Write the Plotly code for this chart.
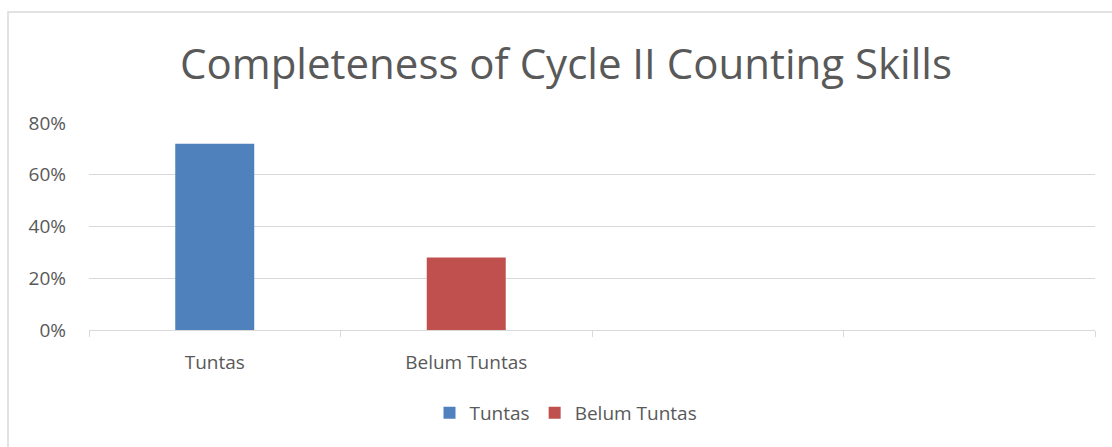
import plotly.graph_objects as go

categories = ["Tuntas", "Belum Tuntas"]
series_names = ["Tuntas", "Belum Tuntas"]
values = [0.72, 0.28]
colors = ["#4F81BD", "#C0504D"]
y_ticks = [0, 0.2, 0.4, 0.6, 0.8]
y_tick_labels = ["0%", "20%", "40%", "60%", "80%"]
title_text = "Completeness of Cycle II Counting Skills"

FONT = "Open Sans"
GREY = "#595959"
LINE = "#D9D9D9"

W, H = 1112, 447
L, R, T, B = 89, 17, 123, 117
pw, ph = W - L - R, H - T - B

fig = go.Figure()
for i, (name, val, col) in enumerate(zip(series_names, values, colors)):
    fig.add_trace(go.Bar(
        x=[i], y=[val], name=name, marker=dict(color=col, line=dict(width=0)),
        width=0.314, hoverinfo="skip",
    ))

fig.update_layout(
    width=W, height=H,
    margin=dict(l=L, r=R, t=T, b=B, pad=0),
    paper_bgcolor="white", plot_bgcolor="white",
    barmode="overlay",
    font=dict(family=FONT, color=GREY, size=19),
    title=dict(text=title_text, x=566 / W, xanchor="center", y=1 - 64 / H, yanchor="middle",
               xref="container", yref="container",
               font=dict(family=FONT, size=42, color=GREY)),
    showlegend=True,
    legend=dict(orientation="h", x=(566 - L) / pw, xanchor="center", y=(330 - 413) / ph,
                yanchor="middle", font=dict(size=19, color=GREY), itemwidth=30,
                traceorder="normal"),
    xaxis=dict(
        range=[-0.5, 3.5], tickmode="array", tickvals=[0, 1], ticktext=categories,
        ticks="", showgrid=False, zeroline=False,
        showline=True, linecolor=LINE, linewidth=1,
        tickfont=dict(size=19, color=GREY), ticklabelstandoff=15,
        minor=dict(tickmode="linear", tick0=-0.5, dtick=1, ticks="outside", ticklen=6,
                   tickcolor=LINE, tickwidth=1, showgrid=False),
        fixedrange=True,
    ),
    yaxis=dict(
        range=[0, 0.8], tickmode="array", tickvals=y_ticks, ticktext=y_tick_labels,
        showgrid=True, gridcolor=LINE, gridwidth=1, zeroline=False, showline=False,
        ticks="", tickfont=dict(size=19, color=GREY), ticklabelstandoff=22,
        fixedrange=True,
    ),
    shapes=[dict(type="rect", xref="paper", yref="paper",
                 x0=(8 - L) / pw, x1=(1120 - L) / pw,
                 y0=(330 - 455) / ph, y1=(330 - 12) / ph,
                 line=dict(color=LINE, width=1.5), fillcolor="rgba(0,0,0,0)", layer="below")],
)

fig.write_html("out.html", config={"displayModeBar": False})
